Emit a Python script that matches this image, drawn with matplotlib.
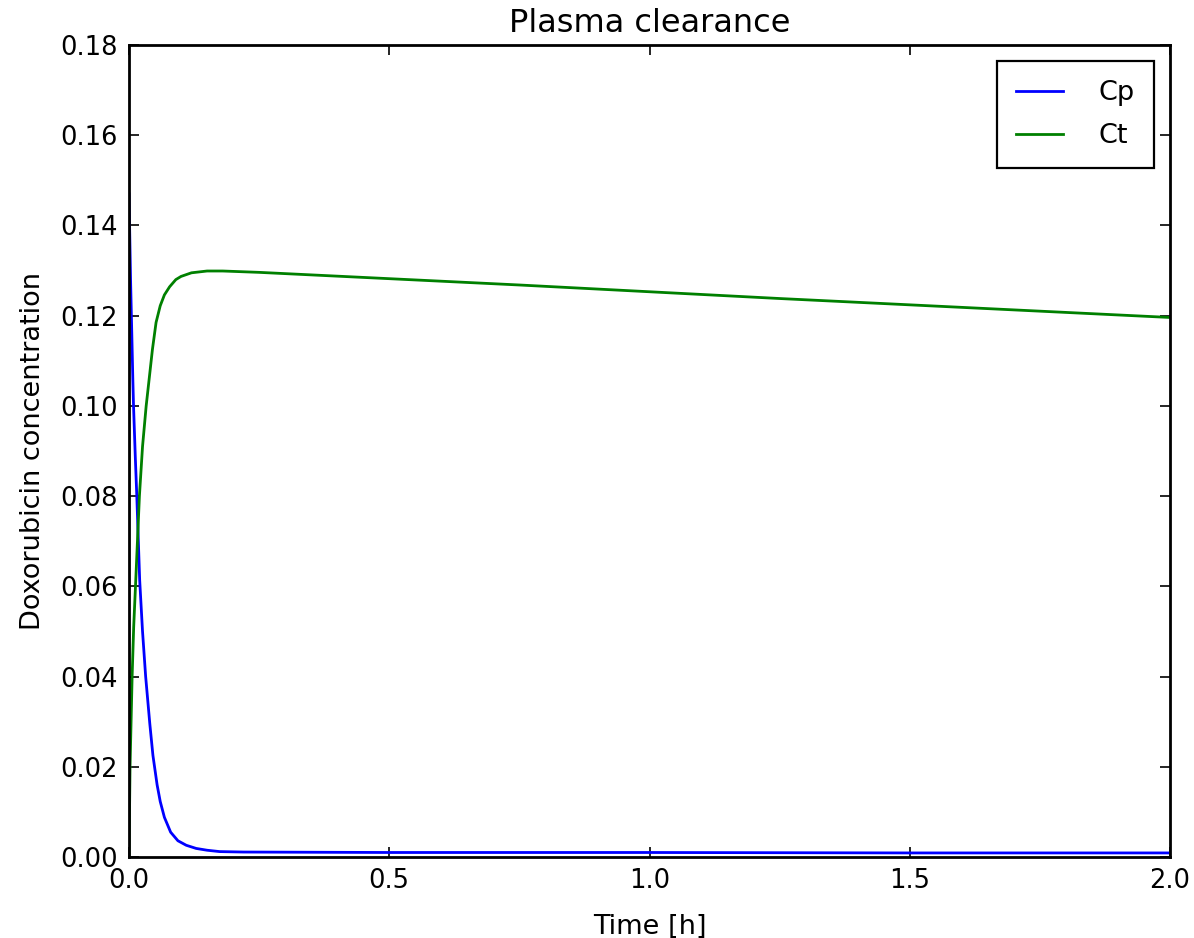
import matplotlib
matplotlib.use("Agg")
import matplotlib.pyplot as plt

# Data
t_cp = [0.0, 0.003, 0.0074, 0.0087, 0.012, 0.015, 0.0205, 0.026, 0.032, 0.040,
        0.046, 0.054, 0.060, 0.068, 0.080, 0.094, 0.110, 0.129, 0.150, 0.174,
        0.22, 0.5, 1.0, 1.5, 2.0]
cp = [0.147, 0.128, 0.1057, 0.100, 0.089, 0.080, 0.0614, 0.050, 0.040, 0.0295,
      0.0225, 0.0160, 0.0123, 0.0088, 0.0055, 0.0036, 0.0026, 0.0019, 0.0015, 0.0012,
      0.0011, 0.0010, 0.0010, 0.0009, 0.0009]

t_ct = [0.0, 0.002, 0.006, 0.009, 0.013, 0.020, 0.026, 0.033, 0.038, 0.045,
        0.052, 0.060, 0.068, 0.078, 0.090, 0.100, 0.120, 0.150, 0.180, 0.25,
        0.5, 0.75, 1.0, 1.25, 1.5, 1.75, 2.0]
ct = [0.0, 0.020, 0.040, 0.051, 0.0614, 0.080, 0.091, 0.1000, 0.1052, 0.1125,
      0.1185, 0.1222, 0.1246, 0.1264, 0.1280, 0.1287, 0.1295, 0.1299, 0.1299, 0.1296,
      0.1282, 0.1268, 0.1253, 0.1238, 0.1224, 0.1210, 0.1196]

series_labels = ["Cp", "Ct"]
x_ticks = [0.0, 0.5, 1.0, 1.5, 2.0]
y_ticks = [0.00, 0.02, 0.04, 0.06, 0.08, 0.10, 0.12, 0.14, 0.16, 0.18]

plt.rcParams['font.family'] = ['DejaVu Sans']

fig = plt.figure(figsize=(11.94, 9.38), dpi=100)
ax = fig.add_axes([129/1194, 1 - 857/938, (1170-129)/1194, (857-45)/938])

ax.plot(t_cp, cp, color=(0, 0, 1), lw=2.0, label=series_labels[0])
ax.plot(t_ct, ct, color=(0, 0.5, 0), lw=2.0, label=series_labels[1])

ax.set_xlim(0, 2.0)
ax.set_ylim(0, 0.18)
ax.set_xticks(x_ticks)
ax.set_xticklabels([f"{v:.1f}" for v in x_ticks])
ax.set_yticks(y_ticks)
ax.set_yticklabels([f"{v:.2f}" for v in y_ticks])

ax.tick_params(direction='in', length=7, width=1.2, top=True, right=True,
               labelsize=18.5, pad=8, colors='black')
for s in ax.spines.values():
    s.set_linewidth(2.0)
    s.set_color('black')

ax.set_title("Plasma clearance", fontsize=23, pad=9)
ax.set_xlabel("Time [h]", fontsize=19.5, labelpad=14)
ax.set_ylabel("Doxorubicin concentration", fontsize=19.5, labelpad=10)

leg = ax.legend(loc='upper right', fontsize=19.5, fancybox=False, framealpha=1,
                edgecolor='black', borderaxespad=0.6, handlelength=1.75,
                handletextpad=1.3, borderpad=0.7, labelspacing=0.62)
leg.get_frame().set_linewidth(1.6)

fig.savefig("out.png", dpi=100, facecolor='white')
